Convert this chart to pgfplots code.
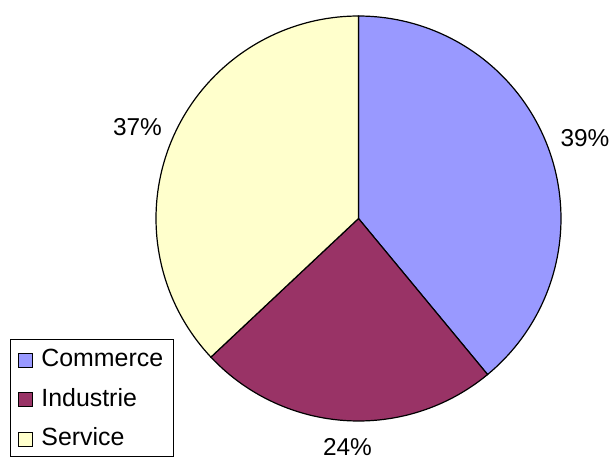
\documentclass[border=0pt]{standalone}
\usepackage{fontspec}
\setmainfont{Liberation Sans}
\usepackage{pgfplots}
\pgfplotsset{compat=1.18}
\definecolor{commerce}{HTML}{9999FF}
\definecolor{industrie}{HTML}{993366}
\definecolor{service}{HTML}{FFFFCC}
\begin{document}
\begin{tikzpicture}
\begin{axis}[
  x=1bp, y=1bp, xmin=0, xmax=612, ymin=0, ymax=461,
  hide axis, scale only axis, clip=false,
  legend image code/.code={\draw[#1, line width=1bp] (0bp,-9bp) rectangle (14bp,5bp);},
  legend cell align=left,
  legend style={at={(axis cs:10,4)}, anchor=south west, draw=black, line width=0.8bp,
    inner xsep=8bp, inner ysep=7.5bp, row sep=16bp, column sep=6bp,
    font=\fontsize{25}{29}\selectfont},
]
% Commerce 39 %, Industrie 24 %, Service 37 % (clockwise from top)
\addplot[fill=commerce, draw=black, line width=1.2bp, domain=-50.4:90, samples=90]
  ({358.5+202.5*cos(x)},{242.5+202.5*sin(x)}) -- (axis cs:358.5,242.5) -- cycle;
\addlegendentry{Commerce}
\addplot[fill=industrie, draw=black, line width=1.2bp, domain=-136.8:-50.4, samples=60]
  ({358.5+202.5*cos(x)},{242.5+202.5*sin(x)}) -- (axis cs:358.5,242.5) -- cycle;
\addlegendentry{Industrie}
\addplot[fill=service, draw=black, line width=1.2bp, domain=-270:-136.8, samples=90]
  ({358.5+202.5*cos(x)},{242.5+202.5*sin(x)}) -- (axis cs:358.5,242.5) -- cycle;
\addlegendentry{Service}
\node[font=\fontsize{24.5}{28}\selectfont] at (axis cs:585,322.5) {39\%};
\node[font=\fontsize{24.5}{28}\selectfont] at (axis cs:347.5,14) {24\%};
\node[font=\fontsize{24.5}{28}\selectfont] at (axis cs:137.5,333.5) {37\%};
\end{axis}
\pgfresetboundingbox
\path (0,0) rectangle (612bp,461bp);
\end{tikzpicture}
\end{document}
